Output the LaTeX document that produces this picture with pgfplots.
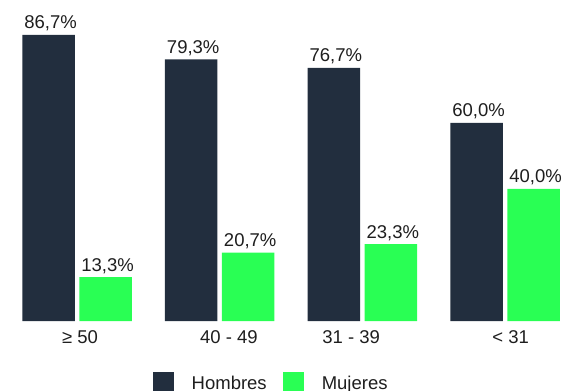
\documentclass[border=0pt]{standalone}
\usepackage{fontspec}
\setmainfont{Liberation Sans}
\usepackage{pgfplots}
\pgfplotsset{compat=1.18}
\definecolor{navy}{HTML}{222E3E}
\definecolor{lime}{HTML}{29FF54}
\definecolor{txt}{HTML}{1E1E1E}
\newcommand{\lblfont}{\fontsize{18.5bp}{22bp}\selectfont}
\begin{document}
\begin{tikzpicture}[x=1bp,y=1bp]
\path[use as bounding box, clip] (0,0) rectangle (568,390);
\begin{axis}[
  at={(5.7bp,69bp)}, anchor=south west,
  scale only axis, width=556.4bp, height=321bp,
  xmin=-0.5, xmax=3.4, ymin=0, ymax=97.27,
  clip=false,
  ybar=4.5bp, bar width=52.5bp,
  axis line style={draw=none},
  major tick length=0pt,
  ytick=\empty,
  xtick={0.021,1.065,1.921,3.039},
  xticklabels={≥ 50, 40 - 49, 31 - 39, < 31},
  xticklabel style={anchor=base, yshift=-22.3bp, inner sep=0pt, font=\lblfont, text=txt},
  nodes near coords={\pgfmathprintnumber[fixed, fixed zerofill, precision=1, use comma, assume math mode=true]{\pgfplotspointmeta}\%},
  every node near coord/.append style={anchor=base, yshift=6bp, xshift=2bp, inner sep=0pt, font=\lblfont, text=txt},
  legend columns=2,
  legend style={at={(0.2642,-0.158)}, anchor=north west, draw=none, fill=none,
    inner sep=0pt, outer sep=0pt, font=\lblfont, text=txt,
    /tikz/every odd column/.style={column sep=17.7bp},
    /tikz/every even column/.style={column sep=16bp},
    nodes={inner sep=0pt, anchor=base west}},
]
\addplot[fill=navy, draw=none,
  legend image code/.code={\fill[navy] (0bp,-3.7bp) rectangle (21.3bp,17.6bp);}]
  coordinates {(0,86.7) (1,79.3) (2,76.7) (3,60.0)};
\addlegendentry{Hombres}
\addplot[fill=lime, draw=none,
  legend image code/.code={\fill[lime] (0bp,-3.7bp) rectangle (21.3bp,17.6bp);}]
  coordinates {(0,13.3) (1,20.7) (2,23.3) (3,40.0)};
\addlegendentry{Mujeres}
\end{axis}
\end{tikzpicture}
\end{document}
